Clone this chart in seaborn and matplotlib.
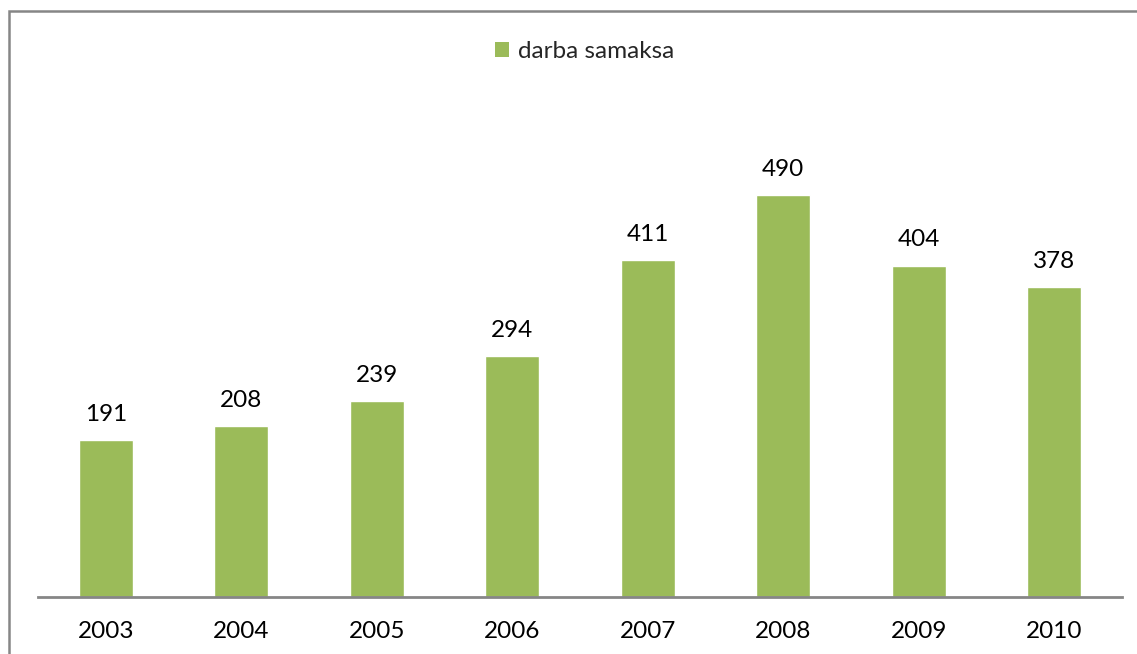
import matplotlib
matplotlib.use("Agg")
import matplotlib.pyplot as plt
import seaborn as sns
import pandas as pd
from matplotlib.patches import Rectangle, Patch

YEARS = ["2003", "2004", "2005", "2006", "2007", "2008", "2009", "2010"]
WAGES = [191, 208, 239, 294, 411, 490, 404, 378]
SERIES_NAME = "darba samaksa"
BAR_COLOR = "#9BBB59"


def main():
    sns.set_style("white")
    plt.rcParams["font.family"] = ["Lato", "DejaVu Sans"]

    df = pd.DataFrame({"year": YEARS, "value": WAGES})

    fig = plt.figure(figsize=(11.37, 6.54), dpi=100)
    ax = fig.add_axes([38 / 1137, 57 / 654, 1084 / 1137, 492 / 654])

    sns.barplot(data=df, x="year", y="value", color=BAR_COLOR, width=0.4,
                saturation=1, ax=ax)
    ax.bar_label(ax.containers[0], padding=11, fontsize=17.5, color="black")

    ax.set_ylim(0, 600)
    ax.set_xlim(-0.5, len(YEARS) - 0.5)
    ax.set_xlabel("")
    ax.set_ylabel("")
    ax.set_yticks([])
    ax.tick_params(axis="x", length=0, pad=17, labelsize=17.5, labelcolor="black")
    for side in ["top", "right", "left"]:
        ax.spines[side].set_visible(False)
    ax.spines["bottom"].set_color("#868686")
    ax.spines["bottom"].set_linewidth(2)

    handle = Patch(facecolor=BAR_COLOR, edgecolor="none")
    fig.legend([handle], [SERIES_NAME], loc="center", bbox_to_anchor=(0.514, 0.921),
               frameon=False, fontsize=17.5, handlelength=0.6, handleheight=0.6,
               handletextpad=0.35)

    # chart frame, only top and left edges fall inside the picture
    fig.patches.append(Rectangle((9 / 1137, -0.1), 1.2, 1.1 - 11 / 654,
                                 transform=fig.transFigure, fill=False,
                                 edgecolor="#868686", linewidth=1.8))

    fig.savefig("out.png", dpi=100)


if __name__ == "__main__":
    main()
